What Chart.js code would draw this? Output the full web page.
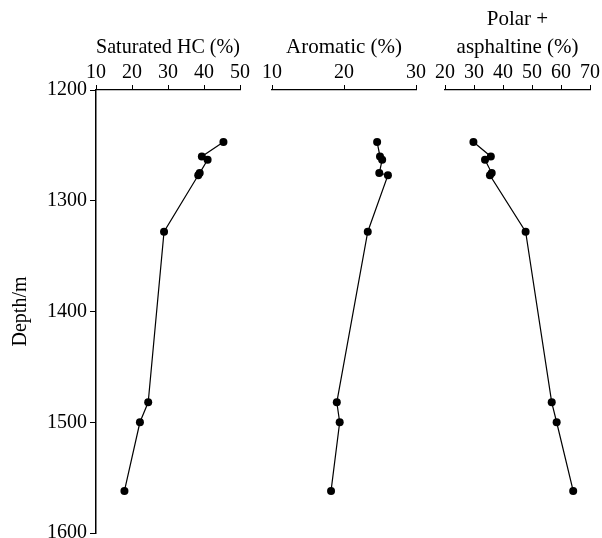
<!DOCTYPE html>
<html>
<head>
<meta charset="utf-8">
<script src="https://cdn.jsdelivr.net/npm/chart.js@4"></script>
<style>
  html, body { margin: 0; padding: 0; background: #fff; }
  canvas { display: block; }
</style>
</head>
<body>
<canvas id="depthChart" width="602" height="538"></canvas>
<script>
const depths = [1247, 1260, 1263, 1275, 1277, 1328, 1482, 1500, 1562];
const saturated = [45.4, 39.4, 41.0, 38.8, 38.4, 28.9, 24.5, 22.2, 17.9];
const aromatic = [24.6, 25.0, 25.3, 24.9, 26.1, 23.3, 19.0, 19.4, 18.2];
const polar = [29.8, 35.8, 33.8, 36.1, 35.5, 47.8, 56.8, 58.5, 64.2];

const depthTicks = [1200, 1300, 1400, 1500, 1600];
const satTicks = [10, 20, 30, 40, 50];
const aroTicks = [10, 20, 30];
const polarTicks = [20, 30, 40, 50, 60, 70];

// pixel extents of the three top axes (left, right)
const PANELS = {
    xSat: [96, 240],
    xAro: [272, 416],
    xPolar: [445, 590]
};

const FONT = "'Liberation Serif', 'Times New Roman', serif";

const ctx = document.getElementById("depthChart").getContext("2d");

function series(values) {
    return values.map((v, i) => ({ x: v, y: depths[i] }));
}

function setTicks(list) {
    return scale => { scale.ticks = list.map(v => ({ value: v })); };
}

function topAxis(min, max, ticks, title, titleTop) {
    return {
        type: "linear",
        position: "top",
        stack: "top",
        min: min,
        max: max,
        afterBuildTicks: setTicks(ticks),
        afterFit: s => { s.height = 90; s.paddingLeft = 0; s.paddingRight = 0; },
        grid: { drawOnChartArea: false, color: "#000", tickLength: 5, tickWidth: 1 },
        border: { display: true, color: "#000", width: 1.3 },
        ticks: {
            color: "#000",
            font: { family: FONT, size: 20 },
            padding: 0,
            autoSkip: false,
            maxRotation: 0,
            minRotation: 0
        },
        title: {
            display: true,
            text: title,
            color: "#000",
            font: { family: FONT, size: 21, lineHeight: 1.33 },
            padding: { top: titleTop, bottom: 0 }
        }
    };
}

const dataset = (label, values, axis) => ({
    label: label,
    data: series(values),
    xAxisID: axis,
    yAxisID: "y",
    showLine: true,
    borderColor: "#000",
    borderWidth: 1.2,
    backgroundColor: "#000",
    pointRadius: 4,
    pointBorderWidth: 0
});

const panelPlugin = {
    id: "panels",
    afterLayout(chart) {
        Object.keys(PANELS).forEach(id => {
            const s = chart.scales[id];
            s.left = PANELS[id][0];
            s.right = PANELS[id][1];
            s.width = s.right - s.left;
            s.configure();
        });
    }
};

new Chart(ctx, {
    type: "scatter",
    data: {
        datasets: [
            dataset("Saturated HC (%)", saturated, "xSat"),
            dataset("Aromatic (%)", aromatic, "xAro"),
            dataset("Polar + asphaltine (%)", polar, "xPolar")
        ]
    },
    options: {
        animation: false,
        responsive: false,
        layout: { padding: { left: 0, right: 12, top: 0, bottom: 5 } },
        plugins: {
            legend: { display: false },
            tooltip: { enabled: false }
        },
        scales: {
            xSat: topAxis(10, 50, satTicks, "Saturated HC (%)", 34),
            xAro: topAxis(10, 30, aroTicks, "Aromatic (%)", 34),
            xPolar: topAxis(20, 70, polarTicks, ["Polar +", "asphaltine (%)"], 6),
            y: {
                type: "linear",
                position: "left",
                reverse: true,
                min: 1200,
                max: 1600,
                afterBuildTicks: setTicks(depthTicks),
                afterFit: s => { s.width = 96; s.paddingTop = 0; s.paddingBottom = 0; },
                grid: { drawOnChartArea: false, color: "#000", tickLength: 6, tickWidth: 1 },
                border: { display: true, color: "#000", width: 1.5 },
                ticks: {
                    color: "#000",
                    font: { family: FONT, size: 20 },
                    padding: 3,
                    callback: v => String(v)
                },
                title: {
                    display: true,
                    text: "Depth/m",
                    color: "#000",
                    font: { family: FONT, size: 20, lineHeight: 1.2 },
                    padding: { top: 9, bottom: 0 }
                }
            }
        }
    },
    plugins: [panelPlugin]
});
</script>
</body>
</html>
